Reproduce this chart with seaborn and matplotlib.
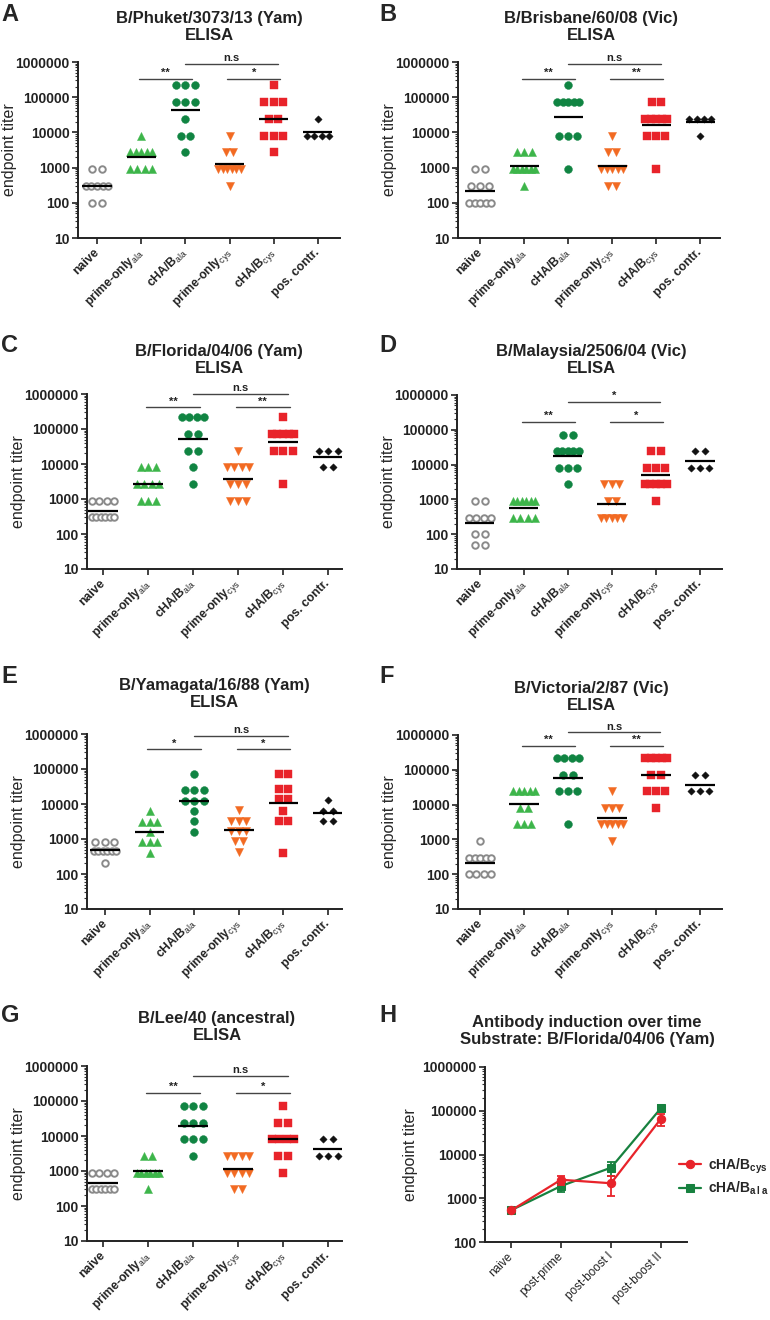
import numpy as np
import pandas as pd
import seaborn as sns
import matplotlib.pyplot as plt
from matplotlib.ticker import LogLocator, NullFormatter

sns.set_style("ticks")
plt.rcParams['font.family'] = ['Liberation Sans', 'DejaVu Sans']
plt.rcParams['mathtext.fontset'] = 'custom'
plt.rcParams['mathtext.rm'] = 'Liberation Sans'
plt.rcParams['mathtext.bf'] = 'Liberation Sans:bold'

# groups on the x axis
groups = ["naive", "prime-only ala", "cHA/B ala", "prime-only cys", "cHA/B cys", "pos. contr."]
group_labels = ["naive", r"prime-only$_\mathrm{ala}$", r"cHA/B$_\mathrm{ala}$",
                r"prime-only$_\mathrm{cys}$", r"cHA/B$_\mathrm{cys}$", "pos. contr."]

# endpoint titers per mouse, one list per group
phuket = [[900, 900, 300, 300, 300, 300, 300, 100, 100],
          [8100, 2700, 2700, 2700, 2700, 2700, 900, 900, 900, 900],
          [218700, 218700, 218700, 72900, 72900, 72900, 24300, 8100, 8100, 2700],
          [8100, 2700, 2700, 900, 900, 900, 900, 900, 900, 300],
          [218700, 72900, 72900, 72900, 24300, 24300, 8100, 8100, 8100, 2700],
          [24300, 8100, 8100, 8100, 8100]]
brisbane = [[900, 900, 300, 300, 300, 100, 100, 100, 100, 100],
            [2700, 2700, 2700, 900, 900, 900, 900, 900, 900, 300],
            [218700, 72900, 72900, 72900, 72900, 72900, 8100, 8100, 8100, 900],
            [8100, 2700, 2700, 900, 900, 900, 900, 900, 300, 300],
            [72900, 72900, 24300, 24300, 24300, 24300, 24300, 8100, 8100, 8100, 900],
            [24300, 24300, 24300, 24300, 8100]]
florida = [[900, 900, 900, 900, 300, 300, 300, 300, 300, 300],
           [8100, 8100, 8100, 2700, 2700, 2700, 2700, 900, 900, 900],
           [218700, 218700, 218700, 218700, 72900, 72900, 24300, 24300, 8100, 2700],
           [24300, 8100, 8100, 8100, 8100, 2700, 2700, 2700, 900, 900, 900],
           [218700, 72900, 72900, 72900, 72900, 72900, 24300, 24300, 24300, 2700],
           [24300, 24300, 24300, 8100, 8100]]
malaysia = [[900, 900, 300, 300, 300, 300, 100, 100, 50, 50],
            [900, 900, 900, 900, 900, 900, 300, 300, 300, 300],
            [72900, 72900, 24300, 24300, 24300, 24300, 24300, 8100, 8100, 8100, 2700],
            [2700, 2700, 2700, 900, 900, 300, 300, 300, 300, 300],
            [24300, 24300, 8100, 8100, 8100, 2700, 2700, 2700, 2700, 2700, 900],
            [24300, 24300, 8100, 8100, 8100]]
yamagata = [[800, 800, 800, 450, 450, 450, 450, 450, 450, 200],
            [6400, 3100, 3100, 3100, 1600, 800, 800, 800, 400],
            [72000, 25000, 25000, 25000, 12500, 12500, 12500, 6400, 3200, 1600],
            [6800, 3200, 3200, 3200, 1700, 1700, 1700, 850, 850, 420],
            [72000, 72000, 26000, 26000, 14000, 14000, 6400, 3200, 3200, 400],
            [13000, 6200, 6200, 3200, 3200]]
victoria = [[900, 300, 300, 300, 300, 300, 100, 100, 100, 100],
            [24300, 24300, 24300, 24300, 24300, 8100, 8100, 2700, 2700, 2700],
            [218700, 218700, 218700, 218700, 72900, 72900, 24300, 24300, 24300, 2700],
            [24300, 8100, 8100, 8100, 2700, 2700, 2700, 2700, 2700, 900],
            [218700, 218700, 218700, 218700, 218700, 72900, 72900, 24300, 24300, 24300, 8100],
            [72900, 72900, 24300, 24300, 24300]]
lee = [[900, 900, 900, 900, 300, 300, 300, 300, 300, 300],
       [2700, 2700, 900, 900, 900, 900, 900, 900, 300],
       [72900, 72900, 72900, 24300, 24300, 24300, 8100, 8100, 8100, 2700],
       [2700, 2700, 2700, 2700, 900, 900, 900, 900, 300, 300],
       [72900, 24300, 24300, 8100, 8100, 8100, 8100, 2700, 2700, 900],
       [8100, 8100, 2700, 2700, 2700]]

# panel H: mean +- SEM over time
timepoints = ["naive", "post-prime", "post-boost I", "post-boost II"]
cys_mean = [525, 2650, 2200, 66000]
cys_sem = [0, 600, 1050, 20000]
ala_mean = [530, 1900, 5000, 115000]
ala_sem = [0, 500, 1800, 20000]

W, H = 770, 1320
fig = plt.figure(figsize=(W / 100, H / 100), dpi=100)

styles = [dict(marker='o', color='white', edgecolor='#8a8a8a', linewidth=1.4, s=22),
          dict(marker='^', color='#3db54a', edgecolor='#3db54a', linewidth=0.3, s=34),
          dict(marker='o', color='#108442', edgecolor='#108442', linewidth=0.3, s=32),
          dict(marker='v', color='#f26a22', edgecolor='#f26a22', linewidth=0.3, s=34),
          dict(marker='s', color='#e8232a', edgecolor='#e8232a', linewidth=0.3, s=30),
          dict(marker='D', color='#111111', edgecolor='#111111', linewidth=0.3, s=14)]


def px_axes(left, right, top, bottom):
    return fig.add_axes([left / W, 1 - bottom / H, (right - left) / W, (bottom - top) / H])


def spread(values, d=0.21, maxw=0.5):
    # Prism-like rows: equal values side by side, centred on the category
    logv = np.round(np.log10(values), 2)
    out = np.zeros(len(values))
    for lv in np.unique(logv):
        idx = np.where(logv == lv)[0]
        n = len(idx)
        step = d if n < 2 else min(d, maxw / (n - 1))
        out[idx] = (np.arange(n) - (n - 1) / 2) * step
    return out


def style_log_axis(ax, ymin, label_px, width_px):
    ax.set_yscale('log')
    ax.set_ylim(ymin, 1e6)
    major = [10 ** k for k in range(int(np.log10(ymin)), 7)]
    ax.set_yticks(major)
    ax.set_yticklabels([str(v) for v in major], fontsize=10, fontweight='bold')
    ax.yaxis.set_minor_locator(LogLocator(base=10, subs=np.arange(2, 10), numticks=20))
    ax.yaxis.set_minor_formatter(NullFormatter())
    ax.tick_params(axis='both', which='major', direction='out', length=4, width=1.2,
                   colors='#222222', pad=2)
    ax.tick_params(axis='y', which='minor', length=2, width=0.8, colors='#333333')
    ax.tick_params(axis='x', which='minor', length=0)
    for side in ['left', 'bottom']:
        ax.spines[side].set_linewidth(1.4)
        ax.spines[side].set_color('#222222')
    sns.despine(ax=ax)
    ax.set_ylabel("endpoint titer", fontsize=11.5)
    ax.yaxis.set_label_coords(-label_px / width_px, 0.5)


def dot_panel(data, rect, xlim, letter, letter_xy, title, title_xy, sig_labels, sig_levels):
    ax = px_axes(*rect)
    rows = []
    for gi, vals in enumerate(data):
        for v, off in zip(vals, spread(vals, d=0.17 if gi in (1, 3) else 0.21)):
            rows.append((gi, gi + off, v))
    df = pd.DataFrame(rows, columns=['group', 'xpos', 'titer'])
    ax.set_yscale('log')
    for gi in range(len(groups)):
        sns.scatterplot(data=df[df.group == gi], x='xpos', y='titer', ax=ax,
                        legend=False, zorder=3, **styles[gi])
    style_log_axis(ax, 10, 61, rect[1] - rect[0])
    gmean = df.groupby('group')['titer'].apply(lambda s: 10 ** np.mean(np.log10(s)))
    ax.hlines(gmean.values, gmean.index - 0.33, gmean.index + 0.33, color='black',
              linewidth=1.6, zorder=4)
    ax.set_xlim(*xlim)
    ax.set_xticks(range(len(groups)))
    ax.set_xticklabels(group_labels, rotation=45, ha='right', va='center',
                       rotation_mode='anchor', fontsize=8.8, fontweight='bold')
    ax.tick_params(axis='x', pad=5)
    ax.set_xlabel("")
    # significance bars
    spans = [(0.95, 2.15), (2.0, 4.1), (2.95, 4.15)]
    levels = [sig_levels[0], sig_levels[1], sig_levels[0]]
    for (x0, x1), yv, lab in zip(spans, levels, sig_labels):
        ax.plot([x0, x1], [yv, yv], color='#444444', linewidth=1.0, clip_on=False)
        ax.annotate(lab, ((x0 + x1) / 2, yv), xytext=(0, 0.5), textcoords='offset points',
                    ha='center', va='bottom', fontsize=8, fontweight='bold',
                    color='#222222', annotation_clip=False)
    fig.text(letter_xy[0] / W, 1 - letter_xy[1] / H, letter, fontsize=17,
             fontweight='bold', va='top', ha='left')
    fig.text(title_xy[0] / W, 1 - title_xy[1] / H, title + "\nELISA", fontsize=12,
             fontweight='bold', ha='center', va='center', linespacing=1.1, color='#222222')
    return ax


dot_panel(phuket, (78, 340, 62, 238), (-0.43, 5.5), "A", (1, 3),
          "B/Phuket/3073/13 (Yam)", (209, 27), ["**", "n.s", "*"], [3.3e5, 8.8e5])
dot_panel(brisbane, (458, 720, 62, 238), (-0.5, 5.45), "B", (379, 3),
          "B/Brisbane/60/08 (Vic)", (591, 27), ["**", "n.s", "**"], [3.3e5, 8.8e5])
dot_panel(florida, (87, 342, 394, 569), (-0.36, 5.31), "C", (1, 334),
          "B/Florida/04/06 (Yam)", (219, 360), ["**", "n.s", "**"], [4.2e5, 1.0e6])
dot_panel(malaysia, (457, 722, 395, 569), (-0.52, 5.5), "D", (379, 334),
          "B/Malaysia/2506/04 (Vic)", (591, 360), ["**", "*", "*"], [1.7e5, 6.3e5])
dot_panel(yamagata, (87, 342, 734, 909), (-0.4, 5.31), "E", (1, 665),
          "B/Yamagata/16/88 (Yam)", (214, 694), ["*", "n.s", "*"], [3.7e5, 9.0e5])
dot_panel(victoria, (458, 722, 735, 909), (-0.5, 5.5), "F", (379, 665),
          "B/Victoria/2/87 (Vic)", (591, 697), ["**", "n.s", "**"], [4.9e5, 1.2e6])
dot_panel(lee, (87, 342, 1066, 1241), (-0.36, 5.31), "G", (1, 1004),
          "B/Lee/40 (ancestral)", (217, 1027), ["**", "n.s", "*"], [1.7e5, 5.2e5])

# panel H
axh = px_axes(485, 687, 1067, 1242)
axh.set_yscale('log')
xs = np.arange(len(timepoints))
green, red = '#17813f', '#e8232a'
sns.lineplot(x=xs, y=ala_mean, ax=axh, color=green, marker='s', markersize=6,
             markeredgecolor=green, linewidth=1.6, label=r"cHA/B$_\mathbf{a\,l\,a}$", zorder=3)
axh.errorbar(xs, ala_mean, yerr=ala_sem, fmt='none', ecolor=green, elinewidth=1.3,
             capsize=3, capthick=1.3, zorder=3)
sns.lineplot(x=xs, y=cys_mean, ax=axh, color=red, marker='o', markersize=6,
             markeredgecolor=red, linewidth=1.6, label=r"cHA/B$_\mathbf{cys}$", zorder=4)
axh.errorbar(xs, cys_mean, yerr=cys_sem, fmt='none', ecolor=red, elinewidth=1.3,
             capsize=3, capthick=1.3, zorder=4)
style_log_axis(axh, 100, 67, 202)
axh.set_xlim(-0.52, 3.52)
axh.set_xticks(xs)
axh.set_xticklabels(timepoints, rotation=45, ha='right', va='center',
                    rotation_mode='anchor', fontsize=8.5)
axh.tick_params(axis='x', pad=5)
handles, labels = axh.get_legend_handles_labels()
axh.legend(handles[::-1], labels[::-1], loc='upper left', bbox_to_anchor=(0.96, 0.49),
           frameon=False, handlelength=1.6, handletextpad=0.5, labelspacing=0.3,
           borderpad=0, borderaxespad=0, prop={'weight': 'bold', 'size': 10})
fig.text(379 / W, 1 - 1004 / H, "H", fontsize=17, fontweight='bold', va='top', ha='left')
fig.text(587 / W, 1 - 1031 / H, "Antibody induction over time\nSubstrate: B/Florida/04/06 (Yam)",
         fontsize=12, fontweight='bold', ha='center', va='center', linespacing=1.1,
         color='#222222')

fig.savefig("out.png", dpi=100)
